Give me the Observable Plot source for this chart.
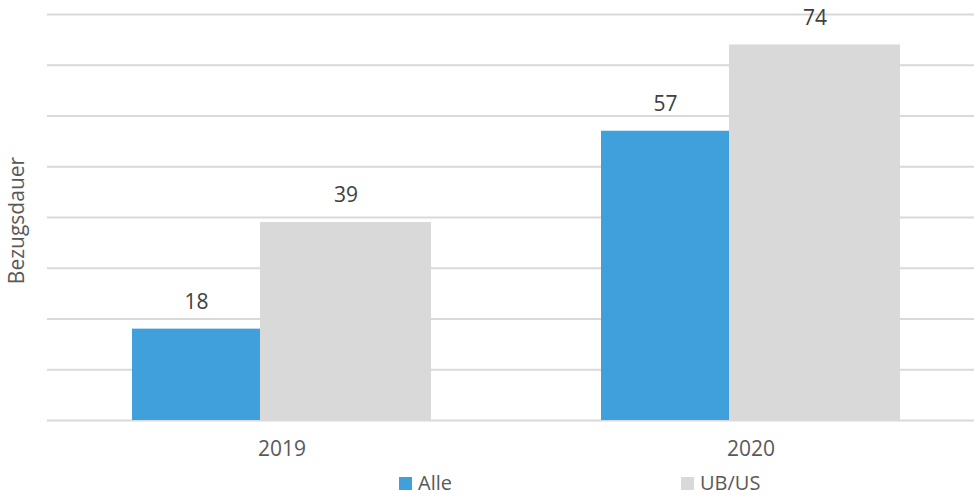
<!DOCTYPE html>
<html>
<head>
<meta charset="utf-8">
<script src="https://cdn.jsdelivr.net/npm/d3@7"></script>
<script src="https://cdn.jsdelivr.net/npm/@observablehq/plot@0.6"></script>
<style>
  html, body { margin: 0; padding: 0; background: #fff; }
  body { width: 974px; height: 497px; overflow: hidden; font-family: "Open Sans", sans-serif; }
  #chart { height: 468px; }
  #legend { position: relative; height: 29px; width: 974px; font-size: 20px; color: #595959; }
  .item { position: absolute; top: 4px; display: flex; align-items: center; height: 22px; line-height: 22px; }
  .sw { width: 13px; height: 13px; margin-right: 6px; }
</style>
</head>
<body>
<div id="chart"></div>
<div id="legend"></div>
<script>
const years = ["2019", "2020"];
const series = ["Alle", "UB/US"];
const alle = [18, 57];
const ubus = [39, 74];
const gridTicks = [0, 10, 20, 30, 40, 50, 60, 70, 80];
const colors = {"Alle": "#40A0DC", "UB/US": "#D9D9D9"};

const dataAlle = years.map((y, i) => ({year: y, value: alle[i], series: "Alle"}));
const dataUb = years.map((y, i) => ({year: y, value: ubus[i], series: "UB/US"}));

const font = "Open Sans, sans-serif";
const fs = 21;
const plot = Plot.plot({
  width: 974,
  height: 468,
  marginLeft: 47,
  marginRight: 0,
  marginTop: 14,
  marginBottom: 48,
  style: {fontFamily: font, fontSize: fs + "px", color: "#595959", background: "#fff", display: "block"},
  x: {type: "band", domain: years, range: [47, 985], padding: 0, label: null},
  y: {domain: [0, 80], axis: null},
  marks: [
    Plot.ruleY(gridTicks, {stroke: "#D9D9D9", strokeWidth: 2}),
    Plot.barY(dataAlle, {x: "year", y: "value", fill: colors["Alle"], insetLeft: 85, insetRight: 256}),
    Plot.barY(dataUb, {x: "year", y: "value", fill: colors["UB/US"], insetLeft: 213, insetRight: 85}),
    Plot.text(dataAlle, {x: "year", y: "value", text: d => String(d.value), dx: -85.5, dy: -27, fill: "#404040", fontSize: fs}),
    Plot.text(dataUb, {x: "year", y: "value", text: d => String(d.value), dx: 64, dy: -27, fill: "#404040", fontSize: fs}),
    Plot.axisX({tickSize: 0, tickPadding: 21, fontSize: fs, fill: "#595959", label: null}),
    Plot.text(["Bezugsdauer"], {frameAnchor: "left", textAnchor: "middle", rotate: -90, dx: -30, dy: 3, fill: "#595959", fontSize: fs})
  ]
});
document.getElementById("chart").appendChild(plot);

const legend = document.getElementById("legend");
const legendX = {"Alle": 399, "UB/US": 681};
series.forEach(s => {
  const it = document.createElement("div");
  it.className = "item";
  it.style.left = legendX[s] + "px";
  const sw = document.createElement("div");
  sw.className = "sw";
  sw.style.background = colors[s];
  const t = document.createElement("span");
  t.textContent = s;
  it.appendChild(sw);
  it.appendChild(t);
  legend.appendChild(it);
});
</script>
</body>
</html>
